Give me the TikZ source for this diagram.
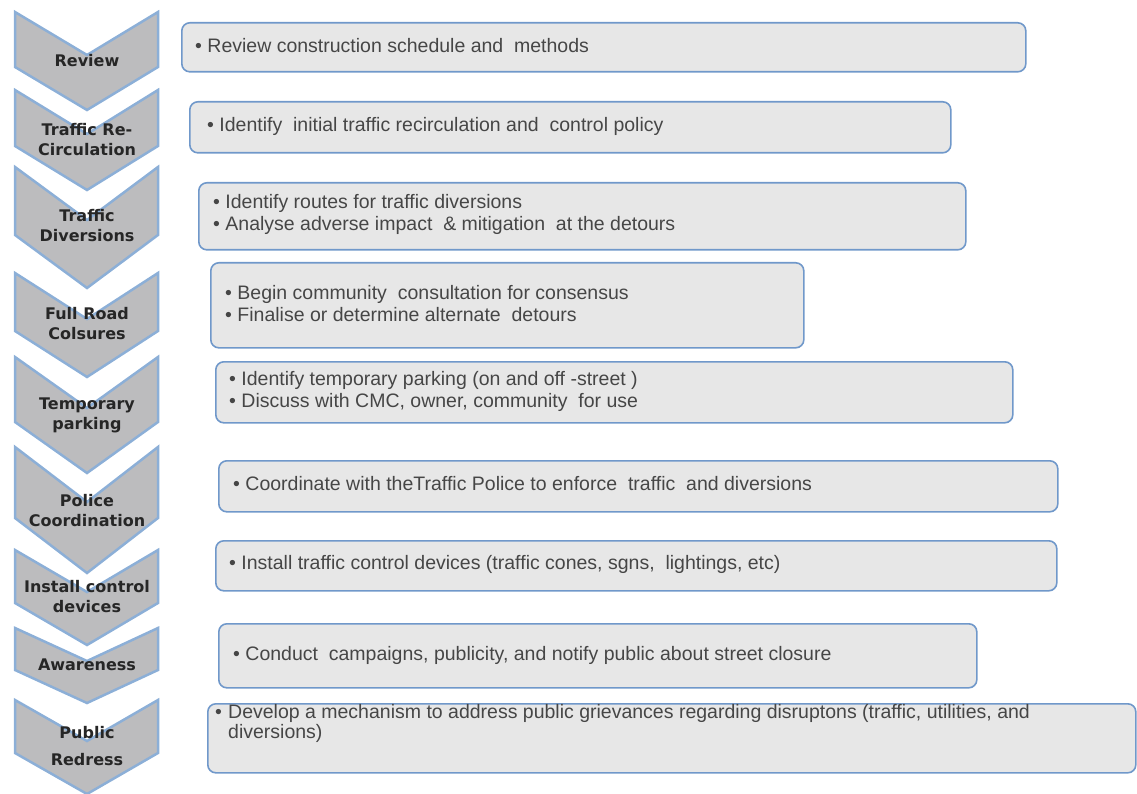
\documentclass[tikz,border=0pt]{standalone}
\usepackage{fontspec}
\setmainfont{Liberation Sans}
\newfontfamily\chevfont{DejaVu Sans}
\definecolor{chevfill}{RGB}{188,188,190}
\definecolor{chevedge}{RGB}{140,175,215}
\definecolor{boxfill}{RGB}{231,231,231}
\definecolor{boxedge}{RGB}{112,152,202}
\definecolor{txtcol}{RGB}{70,70,70}
\definecolor{chevtxt}{RGB}{38,38,38}
\begin{document}
\begin{tikzpicture}[x=1pt,y=-1pt,
  chev/.style={fill=chevfill, draw=chevedge, line width=2.5pt, line join=miter},
  chevlabel/.style={font=\chevfont\bfseries\fontsize{16}{20}\selectfont, text=chevtxt, align=center, inner sep=0pt},
  stepbox/.style={draw=boxedge, line width=1.6pt, fill=boxfill, rounded corners=8pt, anchor=north west, inner sep=0pt},
  boxtext/.style={font=\fontsize{19.5}{22}\selectfont, text=txtcol, anchor=west, align=left, inner sep=0pt}]
\useasboundingbox (0,0) rectangle (1137,794);

% chevrons
\path[chev] (15,12) -- (87,55) -- (158,12) -- (158,67) -- (87,110) -- (15,67) -- cycle;
\path[chev] (15,90) -- (87,134) -- (158,90) -- (158,146) -- (87,190) -- (15,146) -- cycle;
\path[chev] (15,167) -- (87,220) -- (158,167) -- (158,235) -- (87,288) -- (15,235) -- cycle;
\path[chev] (15,273) -- (87,319) -- (158,273) -- (158,331) -- (87,377) -- (15,331) -- cycle;
\path[chev] (15,357) -- (87,408) -- (158,357) -- (158,422) -- (87,473) -- (15,422) -- cycle;
\path[chev] (15,447) -- (87,502) -- (158,447) -- (158,518) -- (87,573) -- (15,518) -- cycle;
\path[chev] (15,550) -- (87,592) -- (158,550) -- (158,603) -- (87,645) -- (15,603) -- cycle;
\path[chev] (15,628) -- (87,661) -- (158,628) -- (158,670) -- (87,703) -- (15,670) -- cycle;
\path[chev] (15,700) -- (87,741) -- (158,700) -- (158,753) -- (87,794) -- (15,753) -- cycle;

\node[chevlabel] (c1) at (87,61) {Review};
\node[chevlabel] (c2) at (87,140) {Traffic Re-\\Circulation};
\node[chevlabel] (c3) at (87,226) {Traffic\\Diversions};
\node[chevlabel] (c4) at (87,324) {Full Road\\Colsures};
\node[chevlabel] (c5) at (87,415) {Temporary\\parking};
\node[chevlabel] (c6) at (87,511) {Police\\Coordination};
\node[chevlabel] (c7) at (87,597) {Install control\\devices};
\node[chevlabel] (c8) at (87,665) {Awareness};
\node[chevlabel, font=\chevfont\bfseries\fontsize{16}{27}\selectfont] (c9) at (87,746) {Public\\Redress};

% boxes
\node[stepbox, minimum width=844pt, minimum height=49pt] (b1) at (181,22) {};
\node[stepbox, minimum width=761pt, minimum height=51pt] (b2) at (189,101) {};
\node[stepbox, minimum width=767pt, minimum height=67pt] (b3) at (198,182) {};
\node[stepbox, minimum width=593pt, minimum height=85pt] (b4) at (210,262) {};
\node[stepbox, minimum width=797pt, minimum height=61pt] (b5) at (215,361) {};
\node[stepbox, minimum width=839pt, minimum height=51pt] (b6) at (218,460) {};
\node[stepbox, minimum width=841pt, minimum height=50pt] (b7) at (215,540) {};
\node[stepbox, minimum width=758pt, minimum height=64pt] (b8) at (218,623) {};
\node[stepbox, minimum width=928pt, minimum height=69pt] (b9) at (207,703) {};

\node[boxtext] (t1) at (195,46) {\textbullet\ Review construction schedule and\ \ methods};
\node[boxtext] (t2) at (207,126) {\textbullet\ Identify\ \ initial traffic recirculation and\ \ control policy};
\node[boxtext] (t3) at (213,214) {\textbullet\ Identify routes for traffic diversions\\\textbullet\ Analyse adverse impact\ \ \& mitigation\ \ at the detours};
\node[boxtext] (t4) at (225,304) {\textbullet\ Begin community\ \ consultation for consensus\\\textbullet\ Finalise or determine alternate\ \ detours};
\node[boxtext] (t5) at (229,391) {\textbullet\ Identify temporary parking (on and off -street )\\\textbullet\ Discuss with CMC, owner, community\ \ for use};
\node[boxtext] (t6) at (233,484) {\textbullet\ Coordinate with theTraffic Police to enforce\ \ traffic\ \ and diversions};
\node[boxtext] (t7) at (229,564) {\textbullet\ Install traffic control devices (traffic cones, sgns,\ \ lightings, etc)};
\node[boxtext] (t8) at (233,655) {\textbullet\ Conduct\ \ campaigns, publicity, and notify public about street closure};
\node[boxtext, anchor=north west, font=\fontsize{19.5}{20}\selectfont] (t9) at (215,704) {\makebox[13pt][l]{\textbullet}Develop a mechanism to address public grievances regarding disruptons (traffic, utilities, and\\\hspace*{13pt}diversions)};
\end{tikzpicture}
\end{document}
